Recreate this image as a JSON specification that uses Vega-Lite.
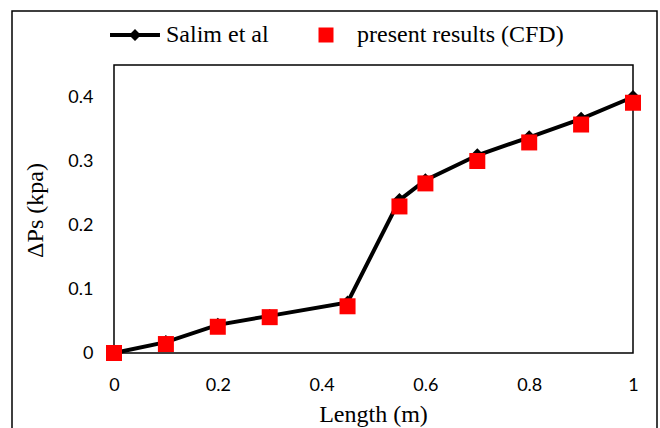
{
  "$schema": "https://vega.github.io/schema/vega-lite/v6.json",
  "autosize": "none",
  "width": 645,
  "height": 419,
  "padding": {"left": 12, "top": 11, "right": 3, "bottom": -2},
  "background": "white",
  "config": {
    "view": {"stroke": "black", "strokeWidth": 1.5},
    "axis": {"grid": false, "domain": false, "ticks": false, "labelColor": "black", "titleColor": "black", "labelFont": "Lato", "labelFontSize": 18, "titleFont": "Liberation Serif", "titleFontSize": 24, "titleFontWeight": "normal"},
    "legend": {"orient": "none", "title": null, "labelFont": "Liberation Serif", "labelFontSize": 24, "labelColor": "black", "labelLimit": 400, "symbolSize": 225, "labelOffset": 19, "symbolStrokeWidth": 0}
  },
  "data": {"values": [
    {"series": "Salim et al", "length": 0, "dp": 0},
    {"series": "Salim et al", "length": 0.1, "dp": 0.017},
    {"series": "Salim et al", "length": 0.2, "dp": 0.044},
    {"series": "Salim et al", "length": 0.3, "dp": 0.058},
    {"series": "Salim et al", "length": 0.45, "dp": 0.079},
    {"series": "Salim et al", "length": 0.55, "dp": 0.239},
    {"series": "Salim et al", "length": 0.6, "dp": 0.27},
    {"series": "Salim et al", "length": 0.7, "dp": 0.309},
    {"series": "Salim et al", "length": 0.8, "dp": 0.337},
    {"series": "Salim et al", "length": 0.9, "dp": 0.366},
    {"series": "Salim et al", "length": 1.0, "dp": 0.4},
    {"series": "present results (CFD)", "length": 0, "dp": 0},
    {"series": "present results (CFD)", "length": 0.1, "dp": 0.014},
    {"series": "present results (CFD)", "length": 0.2, "dp": 0.041},
    {"series": "present results (CFD)", "length": 0.3, "dp": 0.056},
    {"series": "present results (CFD)", "length": 0.45, "dp": 0.073},
    {"series": "present results (CFD)", "length": 0.55, "dp": 0.229},
    {"series": "present results (CFD)", "length": 0.6, "dp": 0.265},
    {"series": "present results (CFD)", "length": 0.7, "dp": 0.3},
    {"series": "present results (CFD)", "length": 0.8, "dp": 0.329},
    {"series": "present results (CFD)", "length": 0.9, "dp": 0.357},
    {"series": "present results (CFD)", "length": 1.0, "dp": 0.391}
  ]},
  "encoding": {
    "x": {"field": "length", "type": "quantitative", "scale": {"domain": [-0.19653, 1.04624], "nice": false, "zero": false},
      "axis": {"offset": -77, "values": [0, 0.2, 0.4, 0.6, 0.8, 1], "labelExpr": "datum.value == 0 ? '0' : datum.value == 1 ? '1' : format(datum.value, '.1f')", "labelPadding": 23, "title": "Length (m)", "titlePadding": 8, "titleX": 361, "titleAnchor": "middle", "labelFlush": false}},
    "y": {"field": "dp", "type": "quantitative", "scale": {"domain": [-0.1203125, 0.534375], "nice": false, "zero": false},
      "axis": {"offset": -102, "values": [0, 0.1, 0.2, 0.3, 0.4], "labelExpr": "datum.value == 0 ? '0' : format(datum.value, '.1f')", "labelPadding": 21, "title": "ΔPs (kpa)", "titlePadding": 20, "titleY": 199, "titleAnchor": "middle", "labelFlush": false}}
  },
  "layer": [
    {
      "data": {"values": [{"frame": 1}]},
      "mark": {"type": "rect", "fill": "transparent", "stroke": "black", "strokeWidth": 1.5, "clip": false, "invalid": "show"},
      "encoding": {
        "x": {"datum": 0, "type": "quantitative"},
        "x2": {"datum": 1},
        "y": {"datum": 0, "type": "quantitative"},
        "y2": {"datum": 0.45}
      }
    },
    {
      "transform": [{"filter": "datum.series == 'Salim et al'"}],
      "mark": {"type": "line", "color": "black", "strokeWidth": 4, "clip": false}
    },
    {
      "transform": [{"filter": "datum.series == 'Salim et al'"}],
      "mark": {"type": "point", "filled": true, "shape": "diamond", "size": 196, "opacity": 1, "clip": false},
      "encoding": {"color": {"field": "series", "type": "nominal",
        "scale": {"domain": ["Salim et al"], "range": ["black"]},
        "legend": {"legendX": 111, "legendY": 12, "symbolType": "M-3.33,-0.27L3.33,-0.27L3.33,0.27L-3.33,0.27ZM0,-0.8L0.8,0L0,0.8L-0.8,0Z"}}}
    },
    {
      "transform": [{"filter": "datum.series != 'Salim et al'"}],
      "mark": {"type": "point", "filled": true, "shape": "square", "size": 256, "opacity": 1, "clip": false},
      "encoding": {"fill": {"field": "series", "type": "nominal",
        "scale": {"domain": ["present results (CFD)"], "range": ["#ff0000"]},
        "legend": {"legendX": 302, "legendY": 12, "symbolType": "square"}}}
    }
  ]
}
